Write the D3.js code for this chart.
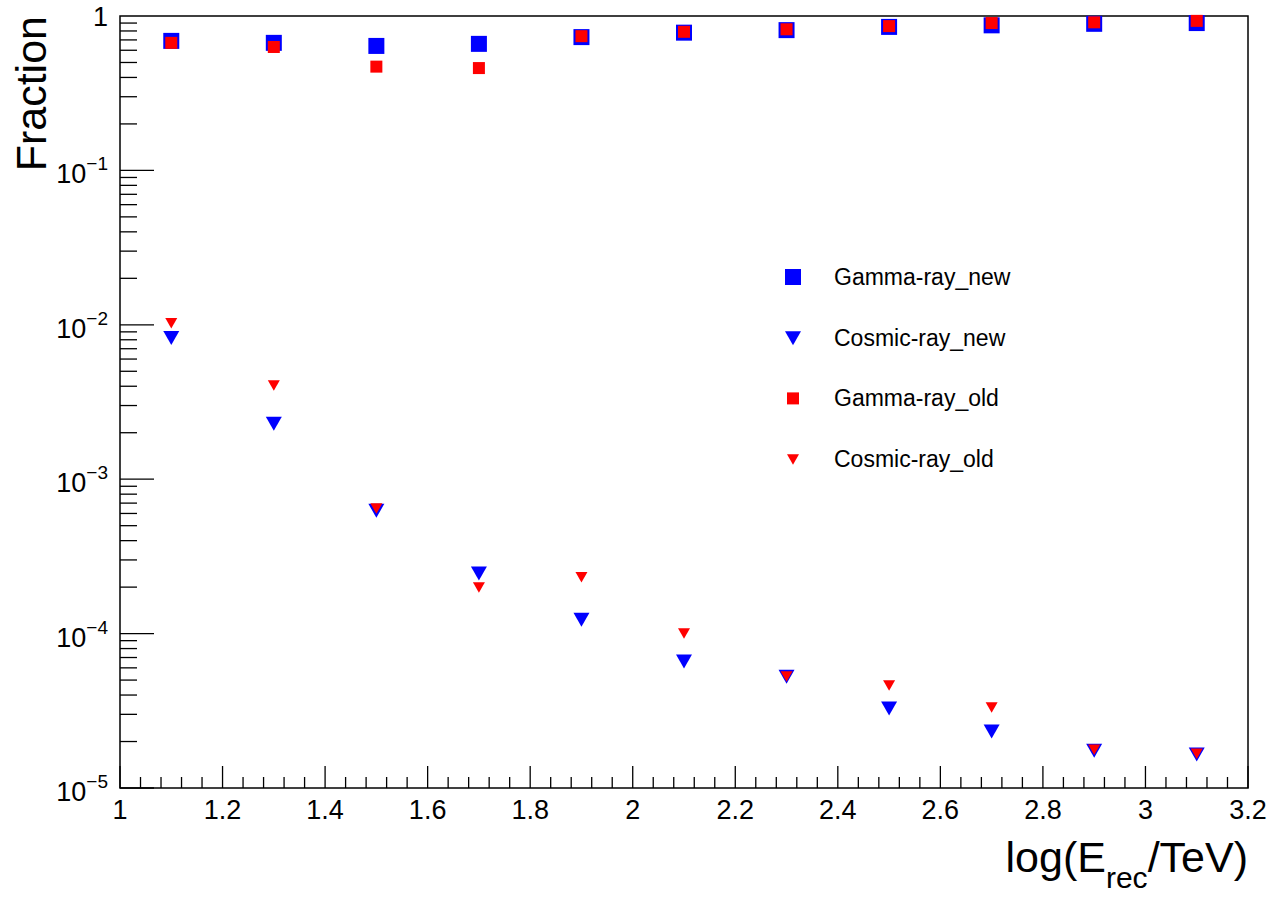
<!DOCTYPE html>
<html><head><meta charset="utf-8">
<script src="https://cdn.jsdelivr.net/npm/d3@7"></script>
<style>body{margin:0;background:#fff;font-family:"Liberation Sans",Arial,sans-serif}</style>
</head><body><div id="chart"></div>
<script>
// Values
const xBins = [1.1, 1.3, 1.5, 1.7, 1.9, 2.1, 2.3, 2.5, 2.7, 2.9, 3.1];
const gammaNew = [0.69, 0.67, 0.64, 0.66, 0.73, 0.78, 0.81, 0.85, 0.87, 0.89, 0.90];
const cosmicNew = [8.3e-3, 2.31e-3, 6.3e-4, 2.47e-4, 1.24e-4, 6.65e-5, 5.3e-5, 3.3e-5, 2.34e-5, 1.76e-5, 1.66e-5];
const gammaOld = [0.67, 0.63, 0.47, 0.46, 0.74, 0.79, 0.82, 0.86, 0.90, 0.91, 0.93];
const cosmicOld = [1.03e-2, 4.07e-3, 6.5e-4, 2.0e-4, 2.33e-4, 1.01e-4, 5.3e-5, 4.65e-5, 3.35e-5, 1.78e-5, 1.68e-5];
const xTickLabels = ["1", "1.2", "1.4", "1.6", "1.8", "2", "2.2", "2.4", "2.6", "2.8", "3", "3.2"];

const series = [
    { name: "Gamma-ray_new", vals: gammaNew, color: "#0000ff", shape: "square", size: 16 },
    { name: "Cosmic-ray_new", vals: cosmicNew, color: "#0000ff", shape: "tri", size: 16 },
    { name: "Gamma-ray_old", vals: gammaOld, color: "#ff0000", shape: "square", size: 12 },
    { name: "Cosmic-ray_old", vals: cosmicOld, color: "#ff0000", shape: "tri", size: 12 }
];

const W = 1285, H = 902;
const L = 120, R = 1248, T = 16, B = 788;

const svg = d3.select("#chart").append("svg").attr("width", W).attr("height", H);

const x = d3.scaleLinear().domain([1, 3.2]).range([L, R]);
const y = d3.scaleLog().domain([1e-5, 1]).range([B, T]);

// Minor/major ticks on x (inward from the bottom)
for (let i = 0; i <= 55; i++) {
    const v = 1 + i * 0.04;
    const major = i % 5 === 0;
    svg.append("line").attr("x1", x(v)).attr("x2", x(v))
        .attr("y1", B).attr("y2", B - (major ? 22 : 11))
        .attr("stroke", "#000").attr("stroke-width", 1.3);
}
xTickLabels.forEach(t => {
    svg.append("text").attr("x", x(+t)).attr("y", B + 31)
        .attr("text-anchor", "middle").style("font-size", "27px").text(t);
});

// Log ticks on y (inward from the left)
for (let e = -5; e < 0; e++) {
    for (let m = 1; m <= 9; m++) {
        const v = m * Math.pow(10, e);
        svg.append("line").attr("x1", L).attr("x2", L + (m === 1 ? 34 : 17))
            .attr("y1", y(v)).attr("y2", y(v)).attr("stroke", "#000").attr("stroke-width", 1.3);
    }
}
for (let e = -5; e <= 0; e++) {
    const t = svg.append("text").attr("x", L - 12).attr("y", y(Math.pow(10, e)) + 13)
        .attr("text-anchor", "end").style("font-size", "27px");
    if (e === 0) t.attr("y", y(1) + 10).text("1");
    else {
        t.append("tspan").text("10");
        t.append("tspan").attr("dy", -13).style("font-size", "19px").text("\u2212" + (-e));
    }
}

// Frame
svg.append("rect").attr("x", L).attr("y", T).attr("width", R - L).attr("height", B - T)
    .attr("fill", "none").attr("stroke", "#000").attr("stroke-width", 1.5);

// Marker drawing
function marker(g, s, cx, cy) {
    const h = s.size / 2;
    if (s.shape === "square") {
        g.append("rect").attr("x", cx - h).attr("y", cy - h).attr("width", s.size).attr("height", s.size).attr("fill", s.color);
    } else {
        g.append("path").attr("d", `M${cx - h},${cy - h * 0.8}L${cx + h},${cy - h * 0.8}L${cx},${cy + h * 0.95}Z`).attr("fill", s.color);
    }
}

series.forEach(s => {
    const g = svg.append("g");
    s.vals.forEach((v, i) => marker(g, s, x(xBins[i]), y(v)));
});

// Legend
series.forEach((s, i) => {
    const ly = 277 + i * 60.7;
    marker(svg, s, 793, ly);
    svg.append("text").attr("x", 834).attr("y", ly + 8).style("font-size", "23px").text(s.name);
});

// Axis titles
const xt = svg.append("text").attr("x", R).attr("y", 872).attr("text-anchor", "end").style("font-size", "43px");
xt.append("tspan").text("log(E");
xt.append("tspan").attr("dy", 16).style("font-size", "30px").text("rec");
xt.append("tspan").attr("dy", -16).text("/TeV)");

svg.append("text").attr("transform", `translate(46,${T}) rotate(-90)`)
    .attr("text-anchor", "end").style("font-size", "43px").text("Fraction");
</script>
</body></html>
